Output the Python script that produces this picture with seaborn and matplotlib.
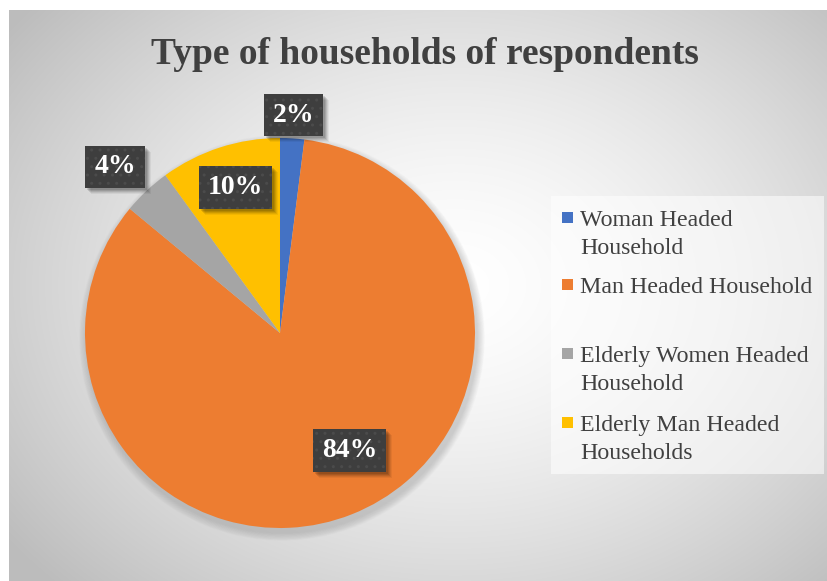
import numpy as np
import matplotlib
matplotlib.use("Agg")
import matplotlib.pyplot as plt
import matplotlib.transforms as mtrans
from matplotlib.patches import Rectangle, Circle
import seaborn as sns

# Data
categories = ["Woman Headed\nHousehold", "Man Headed Household",
              "Elderly Women Headed\nHousehold", "Elderly Man Headed\nHouseholds"]
shares = [2, 84, 4, 10]
pct_labels = ["2%", "84%", "4%", "10%"]
title = "Type of households of respondents"

sns.set_theme(style="white")
plt.rcParams["font.family"] = ["Liberation Serif", "DejaVu Serif"]
colors = sns.color_palette(["#4472C4", "#ED7D31", "#A5A5A5", "#FFC000"])

W, H = 827, 581
fig = plt.figure(figsize=(W / 100, H / 100), dpi=100)
fig.patch.set_facecolor("white")

# Radial gradient backdrop of the chart area
bg = fig.add_axes([9 / W, 0, (W - 9) / W, (H - 10) / H])
bg.set_axis_off()
yy, xx = np.mgrid[10:H, 9:W]
d = np.sqrt(((xx - 455) / 520.0) ** 2 + ((yy - 285) / 400.0) ** 2)
val = 1.0 - (1.0 - 0.765) * np.clip(d, 0, 1.15) ** 1.5
val = np.clip(val, 0.74, 1.0)
bg.imshow(np.dstack([val, val, val]), aspect="auto", interpolation="bilinear")

# Pie axes
cx, cy, r = 280, 333, 195
ax = fig.add_axes([(cx - r) / W, (H - cy - r) / H, 2 * r / W, 2 * r / H])
ax.set_axis_off()

wedges, _ = ax.pie(shares, colors=colors, startangle=90, counterclock=False,
                   radius=1.0, wedgeprops=dict(linewidth=0))
for w in wedges:
    w.set_zorder(2)
ax.set_xlim(-1, 1)
ax.set_ylim(-1, 1)
ax.set_aspect("auto")

# Soft shadow under the pie
for k in range(14):
    rad = 1.0 + 0.04 * (1 - k / 14)
    ax.add_patch(Circle((0.01, -0.025), rad, color="#8a8a8a", alpha=0.028, lw=0,
                        zorder=0, clip_on=False))

# Percentage labels: radial distance and angular nudge per slice
label_r = [1.12, 0.70, 1.20, 0.78]
label_nudge = [0, 9, 1.6, -1]
labels = []
for w, txt, rr, nd in zip(wedges, pct_labels, label_r, label_nudge):
    ang = np.deg2rad((w.theta1 + w.theta2) / 2 + nd)
    t = ax.text(rr * np.cos(ang), rr * np.sin(ang), txt, ha="center", va="center",
                fontsize=20, fontweight="bold", color="white", zorder=5,
                clip_on=False,
                bbox=dict(boxstyle="square,pad=0.32", linewidth=0,
                          facecolor="#3e3e3e", edgecolor="#4b4b4b", hatch=".."))
    labels.append(t)

# Soft drop shadows behind the label boxes (display pixels, inside the pie axes)
fig.canvas.draw()
ident = mtrans.IdentityTransform()
for t in labels:
    bb = t.get_bbox_patch().get_window_extent()
    for off, a in [(6, 0.05), (5, 0.07), (4, 0.09), (3, 0.11), (2, 0.11)]:
        ax.add_patch(Rectangle((bb.x0 + off, bb.y0 - off), bb.width, bb.height,
                               transform=ident, facecolor="black", alpha=a,
                               lw=0, zorder=4, clip_on=False))
ax.set_xlim(-1, 1)
ax.set_ylim(-1, 1)

# Title
fig.text(425 / W, 1 - 55 / H, title, ha="center", va="center", fontsize=27,
         fontweight="bold", color="#404040")

# Legend panel, drawn line by line
lax = fig.add_axes([0, 0, 1, 1], facecolor="none")
lax.set_xlim(0, W)
lax.set_ylim(H, 0)
lax.set_axis_off()
lax.add_patch(Rectangle((551, 196), 273, 278, facecolor="white", alpha=0.55, lw=0))
entry_base = [226, 293, 362, 431]
line_pitch = 28
for col, lab, yb in zip(colors, categories, entry_base):
    lax.add_patch(Rectangle((562, yb - 14), 11, 11, facecolor=col, lw=0))
    for i, line in enumerate(lab.split("\n")):
        lax.text(580, yb + i * line_pitch, line, ha="left", va="baseline",
                 fontsize=17.2, color="#404040")

fig.savefig("out.png", dpi=100)
